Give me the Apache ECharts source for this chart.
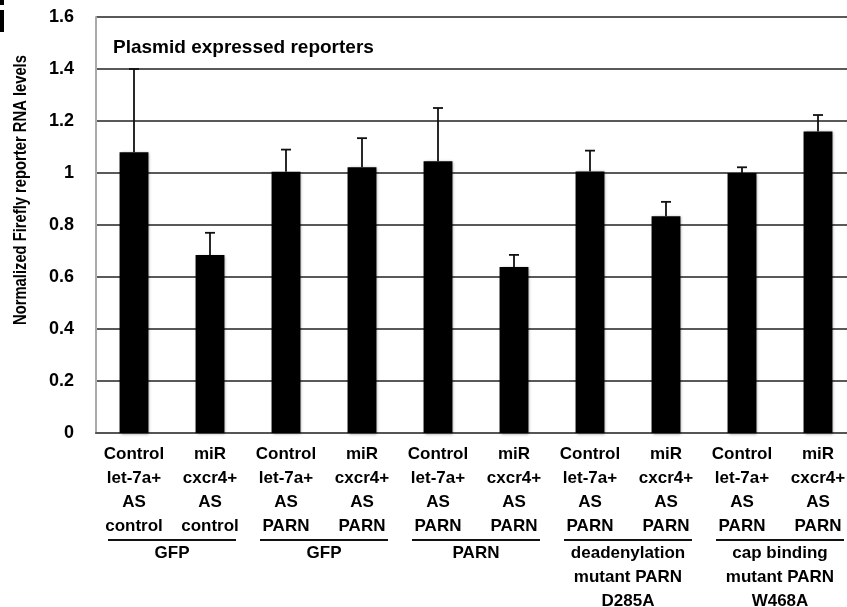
<!DOCTYPE html>
<html>
<head>
<meta charset="utf-8">
<script src="https://cdn.jsdelivr.net/npm/echarts@6/dist/echarts.min.js"></script>
<style>
    html, body { margin: 0; padding: 0; background: #fff; overflow: hidden; }
    /* 画布比窗口宽一点, 右边被截掉 */
    #chart { width: 856px; height: 607px; }
</style>
</head>
<body>
<div id="chart"></div>
<script>
// 柱子标签 (每个柱子四行)
const categories = [
    'Control\nlet-7a+\nAS\ncontrol',
    'miR\ncxcr4+\nAS\ncontrol',
    'Control\nlet-7a+\nAS\nPARN',
    'miR\ncxcr4+\nAS\nPARN',
    'Control\nlet-7a+\nAS\nPARN',
    'miR\ncxcr4+\nAS\nPARN',
    'Control\nlet-7a+\nAS\nPARN',
    'miR\ncxcr4+\nAS\nPARN',
    'Control\nlet-7a+\nAS\nPARN',
    'miR\ncxcr4+\nAS\nPARN'
]
const values = [1.08, 0.685, 1.005, 1.022, 1.045, 0.638, 1.006, 0.834, 1.0, 1.16]
const errors = [0.32, 0.085, 0.085, 0.112, 0.205, 0.047, 0.08, 0.055, 0.022, 0.063]
// 分组 (每组两个柱子)
const groups = ['GFP', 'GFP', 'PARN', 'deadenylation\nmutant PARN\nD285A', 'cap binding\nmutant PARN\nW468A']
const yTicks = [0, 0.2, 0.4, 0.6, 0.8, 1, 1.2, 1.4, 1.6]

const font = "'Liberation Sans', Arial, sans-serif"
const chart = echarts.init(document.getElementById('chart'))

const option = {
    animation: false,
    title: {
        text: 'Plasmid expressed reporters',
        left: 108,
        top: 33,
        textStyle: { fontFamily: font, fontSize: 19, fontWeight: 'bold', color: '#000' }
    },
    grid: { left: 96, right: 0, top: 17, bottom: 174, containLabel: false },
    xAxis: {
        type: 'category',
        data: categories,
        axisLine: { show: true, lineStyle: { color: '#555', width: 2 } },
        axisTick: { show: false },
        axisLabel: {
            interval: 0,
            margin: 9,
            fontFamily: font,
            fontSize: 17,
            fontWeight: 'bold',
            color: '#000',
            lineHeight: 24,
            align: 'center'
        }
    },
    yAxis: {
        type: 'value',
        min: yTicks[0],
        max: yTicks[yTicks.length - 1],
        interval: 0.2,
        axisLine: { show: true, lineStyle: { color: '#aaa', width: 2 } },
        axisTick: { show: false },
        axisLabel: {
            margin: 22,
            fontFamily: font,
            fontSize: 18,
            fontWeight: 'bold',
            color: '#000'
        },
        splitLine: { show: true, lineStyle: { color: '#222', width: 1.5 } }
    },
    series: [
        {
            type: 'bar',
            data: values,
            barWidth: '38%',
            itemStyle: {
                color: '#000',
                shadowColor: 'rgba(0,0,0,0.45)',
                shadowBlur: 3,
                shadowOffsetX: 1,
                shadowOffsetY: 1
            },
            z: 3
        },
        {
            // 误差线 (只画上半部分)
            type: 'custom',
            data: values.map((v, i) => [i, v, v + errors[i]]),
            z: 4,
            renderItem: (params, api) => {
                const base = api.coord([api.value(0), api.value(1)])
                const top = api.coord([api.value(0), api.value(2)])
                const half = 5
                return {
                    type: 'group',
                    children: [
                        { type: 'line', shape: { x1: base[0], y1: base[1], x2: top[0], y2: top[1] }, style: { stroke: '#111', lineWidth: 1.8 } },
                        { type: 'line', shape: { x1: top[0] - half, y1: top[1], x2: top[0] + half, y2: top[1] }, style: { stroke: '#111', lineWidth: 1.8 } }
                    ]
                }
            }
        }
    ]
}
chart.setOption(option)

// y轴名称、左上角残留字母、分组下划线和分组名称
const graphics = [
    {
        type: 'text',
        rotation: Math.PI / 2,
        x: 21,
        y: 190,
        scaleX: 0.82,
        style: {
            text: 'Normalized Firefly reporter RNA levels',
            fontFamily: font,
            fontSize: 18,
            fontWeight: 'bold',
            fill: '#000',
            align: 'center',
            verticalAlign: 'middle'
        }
    },
    { type: 'rect', shape: { x: 0, y: 0, width: 4, height: 5 }, style: { fill: '#000' } },
    { type: 'rect', shape: { x: 0, y: 10, width: 4, height: 22 }, style: { fill: '#000' } }
]
const lineY = 540
groups.forEach((name, g) => {
    const a = chart.convertToPixel({ xAxisIndex: 0 }, g * 2)
    const b = chart.convertToPixel({ xAxisIndex: 0 }, g * 2 + 1)
    const cx = (a + b) / 2
    graphics.push({
        type: 'line',
        shape: { x1: cx - 64, y1: lineY, x2: cx + 64, y2: lineY },
        style: { stroke: '#111', lineWidth: 2 }
    })
    graphics.push({
        type: 'text',
        x: cx,
        y: lineY + 1,
        style: {
            text: name,
            fontFamily: font,
            fontSize: 17,
            fontWeight: 'bold',
            fill: '#000',
            align: 'center',
            verticalAlign: 'top',
            lineHeight: 24
        }
    })
})
chart.setOption({ graphic: graphics })
</script>
</body>
</html>
